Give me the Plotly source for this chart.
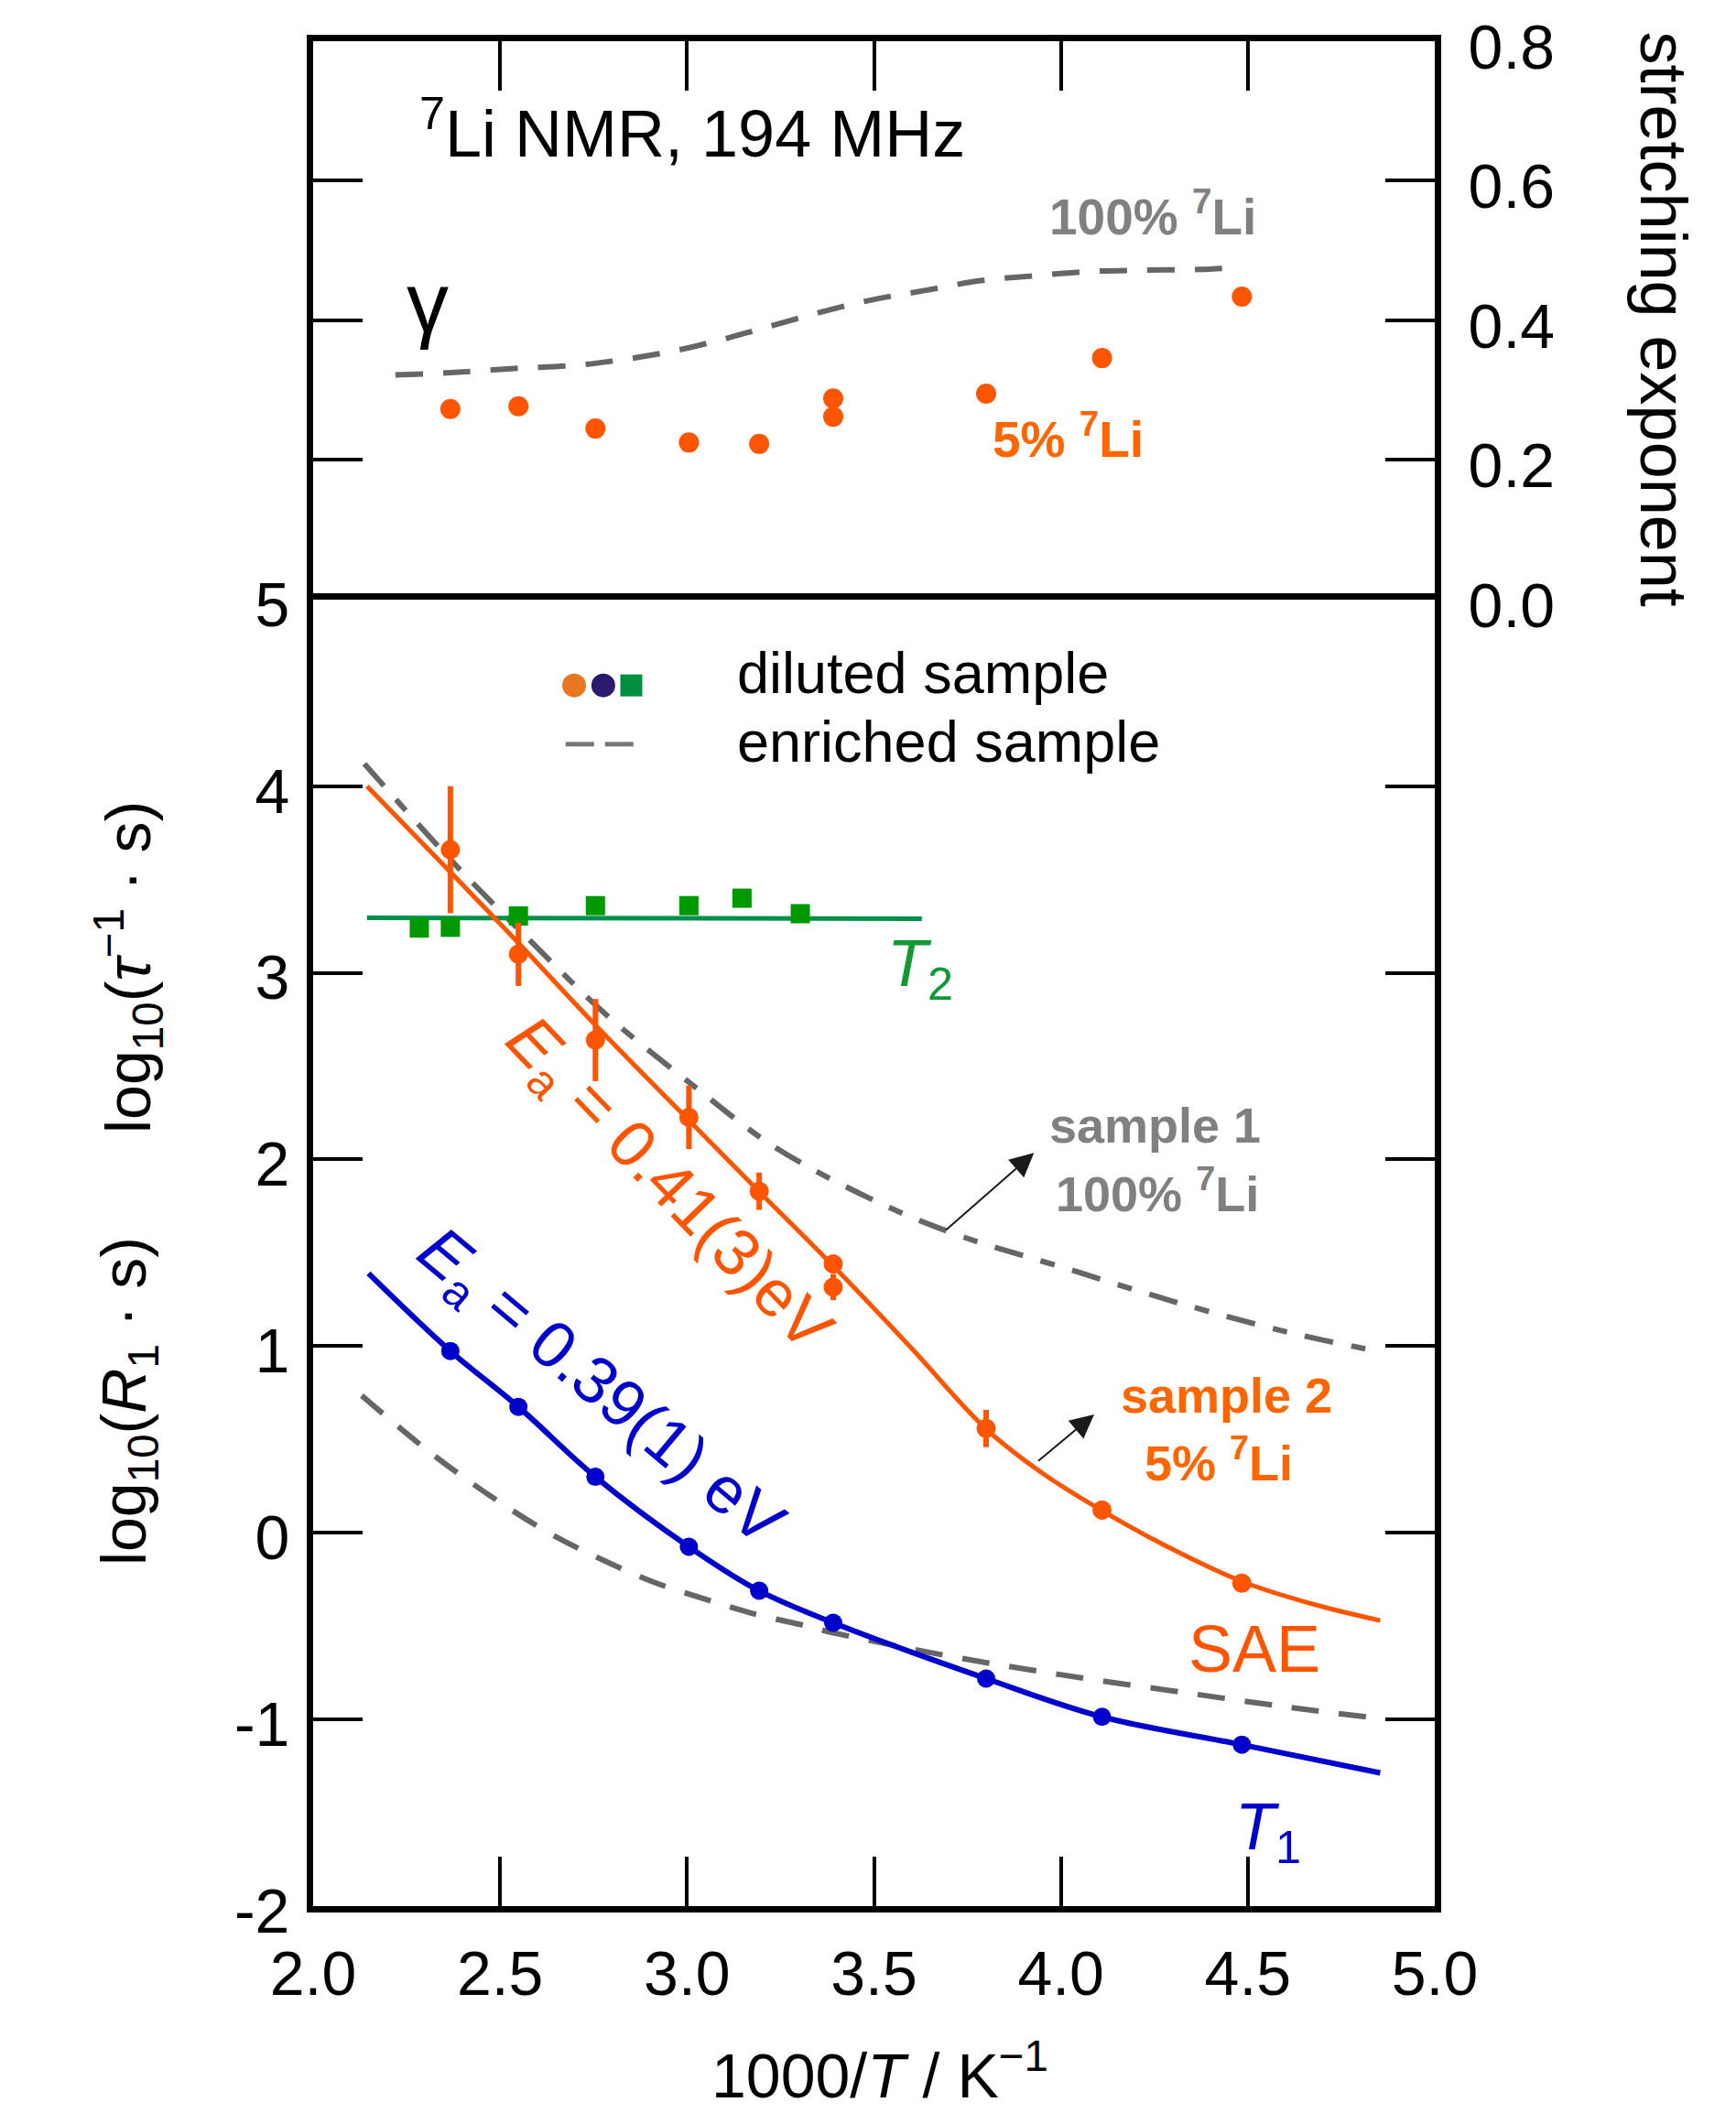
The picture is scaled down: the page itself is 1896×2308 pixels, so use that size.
import plotly.graph_objects as go

# ---------------- data ----------------
# 1000/T (K^-1) of the measured temperatures
inv_T_dil = [2.367, 2.549, 2.755, 3.005, 3.193, 3.391, 3.391, 3.800, 4.110, 4.484]
# stretching exponent gamma, diluted sample (5% 7Li)
gamma_dil = [0.273, 0.277, 0.245, 0.225, 0.223, 0.288, 0.262, 0.295, 0.346, 0.434]
# stretching exponent gamma, enriched sample (100% 7Li)
inv_T_gamma_enr = [2.220, 2.367, 2.538, 2.709, 2.831, 2.954, 3.076, 3.198, 3.345,
                   3.491, 3.638, 3.785, 3.932, 4.078, 4.225, 4.372, 4.484]
gamma_enr = [0.322, 0.325, 0.331, 0.336, 0.344, 0.355, 0.370, 0.388, 0.410,
             0.429, 0.443, 0.457, 0.464, 0.470, 0.472, 0.473, 0.476]

# SAE correlation rates log10(tau^-1 s), diluted sample
log_tau_dil = [3.66, 3.10, 2.64, 2.226, 1.83, 1.44, 1.316, 0.559, 0.122, -0.27]
log_tau_err = [0.34, 0.17, 0.22, 0.17, 0.10, 0.05, 0.07, 0.10, 0.05, 0.03]
# SAE fit (Ea = 0.41(3) eV)
inv_T_sae_fit = [2.144, 2.367, 2.549, 2.755, 3.005, 3.192, 3.391, 3.600, 3.798,
                 3.950, 4.109, 4.300, 4.483, 4.670, 4.854]
log_tau_fit = [4.00, 3.54, 3.16, 2.72, 2.21, 1.83, 1.43, 0.99, 0.56,
               0.32, 0.12, -0.09, -0.26, -0.38, -0.47]
# enriched sample (sample 1, 100% 7Li), correlation rates
inv_T_tau_enr = [2.137, 2.381, 2.584, 2.787, 3.029, 3.232, 3.516, 3.739, 4.002, 4.307, 4.611, 4.844]
log_tau_enr = [4.12, 3.578, 3.165, 2.77, 2.377, 2.07, 1.766, 1.585, 1.424, 1.236, 1.073, 0.974]

# T1 relaxation rates log10(R1 s), diluted sample
inv_T_R1 = [2.367, 2.549, 2.755, 3.005, 3.193, 3.391, 3.800, 4.110, 4.484]
log_R1_dil = [0.974, 0.675, 0.30, -0.075, -0.31, -0.482, -0.781, -0.986, -1.135]
# T1 fit (Ea = 0.39(1) eV)
inv_T_R1_fit = [2.148, 2.367, 2.549, 2.755, 3.005, 3.192, 3.391, 3.800, 4.110, 4.483, 4.854]
log_R1_fit = [1.39, 0.974, 0.675, 0.30, -0.075, -0.31, -0.482, -0.781, -0.986, -1.135, -1.286]
# T1 rates, enriched sample
inv_T_R1_enr = [2.130, 2.301, 2.416, 2.530, 2.652, 2.775, 2.905, 3.040, 3.175, 3.314,
                3.395, 3.699, 4.002, 4.347, 4.611, 4.844]
log_R1_enr = [0.735, 0.449, 0.278, 0.123, -0.024, -0.146, -0.260, -0.350, -0.432, -0.497,
              -0.537, -0.660, -0.761, -0.861, -0.935, -0.993]

# T2 rates, diluted sample
inv_T_T2 = [2.284, 2.367, 2.549, 2.755, 3.005, 3.147, 3.303]
log_T2 = [3.24, 3.244, 3.305, 3.36, 3.36, 3.40, 3.317]
inv_T_T2_fit = [2.144, 3.628]
log_T2_fit = [3.295, 3.29]

# axis ticks
x_ticks = [2.0, 2.5, 3.0, 3.5, 4.0, 4.5, 5.0]
x_ticklabels = ["2.0", "2.5", "3.0", "3.5", "4.0", "4.5", "5.0"]
y_ticks = [-2, -1, 0, 1, 2, 3, 4, 5]
y_ticklabels = ["-2", "-1", "0", "1", "2", "3", "4", "5"]
g_ticks = [0.0, 0.2, 0.4, 0.6, 0.8]
g_ticklabels = ["0.0", "0.2", "0.4", "0.6", "0.8"]

# ---------------- styling ----------------
FONT = "Liberation Sans, Arial, Helvetica, sans-serif"
ORANGE = "#FF5500"
ORANGE_TXT = "#FF6600"
BLUE = "#0000CC"
GREEN_PT = "#009A00"
GREEN_LN = "#00904A"
GREY = "#666666"
GREY_TXT = "#808080"

W, H = 1896, 2308
ML, MR, MT, MB = 342, 329, 41, 226
SPLIT = 0.7006
PW, PH = W - ML - MR, H - MT - MB


def paper(xpx, ypx):
    """Convert page pixels to paper coordinates."""
    return (xpx - ML) / PW, (H - MB - ypx) / PH


fig = go.Figure()

# --- upper panel: stretching exponent ---
fig.add_trace(go.Scatter(x=inv_T_gamma_enr, y=gamma_enr, xaxis="x2", yaxis="y2", mode="lines",
                         line=dict(color=GREY, width=6, dash="30px,22px", shape="spline"),
                         showlegend=False))
fig.add_trace(go.Scatter(x=inv_T_dil, y=gamma_dil, xaxis="x2", yaxis="y2", mode="markers",
                         marker=dict(color=ORANGE, size=22), showlegend=False))

# --- lower panel: rates ---
fig.add_trace(go.Scatter(x=inv_T_tau_enr, y=log_tau_enr, mode="lines",
                         line=dict(color=GREY, width=6, dash="32px,20px,16px,20px", shape="spline"),
                         showlegend=False))
fig.add_trace(go.Scatter(x=inv_T_R1_enr, y=log_R1_enr, mode="lines",
                         line=dict(color=GREY, width=6, dash="30px,22px", shape="spline"),
                         showlegend=False))
fig.add_trace(go.Scatter(x=inv_T_T2_fit, y=log_T2_fit, mode="lines",
                         line=dict(color=GREEN_LN, width=5), showlegend=False))
fig.add_trace(go.Scatter(x=inv_T_T2, y=log_T2, mode="markers",
                         marker=dict(color=GREEN_PT, size=21, symbol="square"), showlegend=False))
fig.add_trace(go.Scatter(x=inv_T_sae_fit, y=log_tau_fit, mode="lines",
                         line=dict(color=ORANGE, width=5, shape="spline", smoothing=1.0),
                         showlegend=False))
fig.add_trace(go.Scatter(x=inv_T_dil, y=log_tau_dil, mode="markers",
                         marker=dict(color=ORANGE, size=21),
                         error_y=dict(type="data", array=log_tau_err, visible=True,
                                      thickness=6, width=0, color=ORANGE),
                         showlegend=False))
fig.add_trace(go.Scatter(x=inv_T_R1_fit, y=log_R1_fit, mode="lines",
                         line=dict(color=BLUE, width=6, shape="spline"), showlegend=False))
fig.add_trace(go.Scatter(x=inv_T_R1, y=log_R1_dil, mode="markers",
                         marker=dict(color=BLUE, size=20), showlegend=False))

# --- legend glyphs drawn as pixel-sized shapes ---
shapes = []
for xa, col, kind in [(2.698, "#E87722", "circle"), (2.776, "#2B1A6E", "circle"),
                      (2.851, "#009040", "rect")]:
    r = 13 if kind == "circle" else 12
    shapes.append(dict(type=kind, xref="x", yref="y", xsizemode="pixel", ysizemode="pixel",
                       xanchor=xa, yanchor=4.54, x0=-r, x1=r, y0=-r, y1=r,
                       fillcolor=col, line=dict(width=0)))
for x0, x1 in [(-37, -6), (6, 37)]:
    shapes.append(dict(type="line", xref="x", yref="y", xsizemode="pixel", ysizemode="pixel",
                       xanchor=2.766, yanchor=4.225, x0=x0, x1=x1, y0=0, y1=0,
                       line=dict(color="#777777", width=5)))

ann = []


def text(x, y, s, size, color="black", xref="x", yref="y", angle=0, xanchor="center",
         yanchor="middle", bold=False):
    ann.append(dict(x=x, y=y, xref=xref, yref=yref, text=(f"<b>{s}</b>" if bold else s),
                    showarrow=False, textangle=angle, xanchor=xanchor, yanchor=yanchor,
                    font=dict(family=FONT, size=size, color=color)))


# upper panel labels
text(2.280, 0.675, "<sup>7</sup>Li NMR, 194 MHz", 72, xref="x2", yref="y2", xanchor="left")
text(2.306, 0.425, "γ", 92, xref="x2", yref="y2")
text(4.246, 0.554, "100% <sup>7</sup>Li", 55, GREY_TXT, xref="x2", yref="y2", bold=True)
text(4.018, 0.235, "5% <sup>7</sup>Li", 55, ORANGE_TXT, xref="x2", yref="y2", bold=True)

# legend text
text(3.128, 4.605, "diluted sample", 63, xanchor="left")
text(3.128, 4.240, "enriched sample", 63, xanchor="left")

# lower panel labels
text(3.624, 3.026, "<i>T</i><sub>2</sub>", 72, "#119A34")
text(4.554, -1.60, "<i>T</i><sub>1</sub>", 72, BLUE)
text(4.518, -0.62, "SAE", 72, ORANGE)
text(2.945, 1.858, "<i>E</i><sub>a</sub> = 0.41(3)eV", 72, ORANGE, angle=46)
text(2.765, 0.771, "<i>E</i><sub>a</sub> = 0.39(1) eV", 72, BLUE, angle=40)
text(4.253, 2.186, "sample 1", 54, GREY_TXT, bold=True)
text(4.258, 1.838, "100% <sup>7</sup>Li", 54, GREY_TXT, bold=True)
text(4.442, 0.737, "sample 2", 54, ORANGE_TXT, bold=True)
text(4.422, 0.395, "5% <sup>7</sup>Li", 54, ORANGE_TXT, bold=True)

# arrows pointing from the curves to their sample labels
for (hx, hy, tx, ty) in [(3.928, 2.035, 3.689, 1.616), (4.089, 0.634, 3.936, 0.379)]:
    ann.append(dict(x=hx, y=hy, ax=tx, ay=ty, xref="x", yref="y", axref="x", ayref="y",
                    text="", showarrow=True, arrowhead=2, arrowsize=2.6, arrowwidth=2,
                    arrowcolor="#1a1a1a"))

# axis titles
px, py = paper(961, 2262)
text(px, py, "1000/<i>T</i> / K<sup>−1</sup>", 68, xref="paper", yref="paper")
px, py = paper(140, 1530)
text(px, py, "log<sub>10</sub>(<i>R</i><sub>1</sub> · s)", 68, xref="paper", yref="paper", angle=-90)
px, py = paper(140, 1055)
text(px, py, "log<sub>10</sub>(<i>τ</i><sup>−1</sup> · s)", 68, xref="paper", yref="paper", angle=-90)
px, py = paper(1817, 345)
text(px, py, "stretching exponent", 72, xref="paper", yref="paper", angle=90)

axis_common = dict(showline=True, linewidth=7, linecolor="black", ticks="inside", ticklen=54,
                   tickwidth=4, tickcolor="black", showgrid=False, zeroline=False,
                   tickfont=dict(family=FONT, size=68, color="black"))

fig.update_layout(
    width=W, height=H, autosize=False,
    margin=dict(l=ML, r=MR, t=MT, b=MB, pad=0),
    paper_bgcolor="white", plot_bgcolor="white",
    font=dict(family=FONT, color="black"),
    showlegend=False,
    xaxis=dict(domain=[0, 1], range=[2, 5], anchor="y", tickmode="array", tickvals=x_ticks,
               ticktext=x_ticklabels, mirror=True, ticklabelstandoff=8, **axis_common),
    xaxis2=dict(domain=[0, 1], range=[2, 5], anchor="y2", side="top", tickmode="array",
                tickvals=x_ticks, showticklabels=False, mirror=False, **axis_common),
    yaxis=dict(domain=[0, SPLIT], range=[-2, 5], anchor="x", tickmode="array", tickvals=y_ticks,
               ticktext=y_ticklabels, mirror="allticks", ticklabelstandoff=5,
               ticklabelshift=5, **axis_common),
    yaxis2=dict(domain=[SPLIT, 1], range=[0, 0.8], anchor="x2", side="right", tickmode="array",
                tickvals=g_ticks, ticktext=g_ticklabels, mirror="allticks",
                ticklabelstandoff=16, ticklabelshift=6, **axis_common),
    shapes=shapes,
    annotations=ann,
)

fig.write_html("out.html")
